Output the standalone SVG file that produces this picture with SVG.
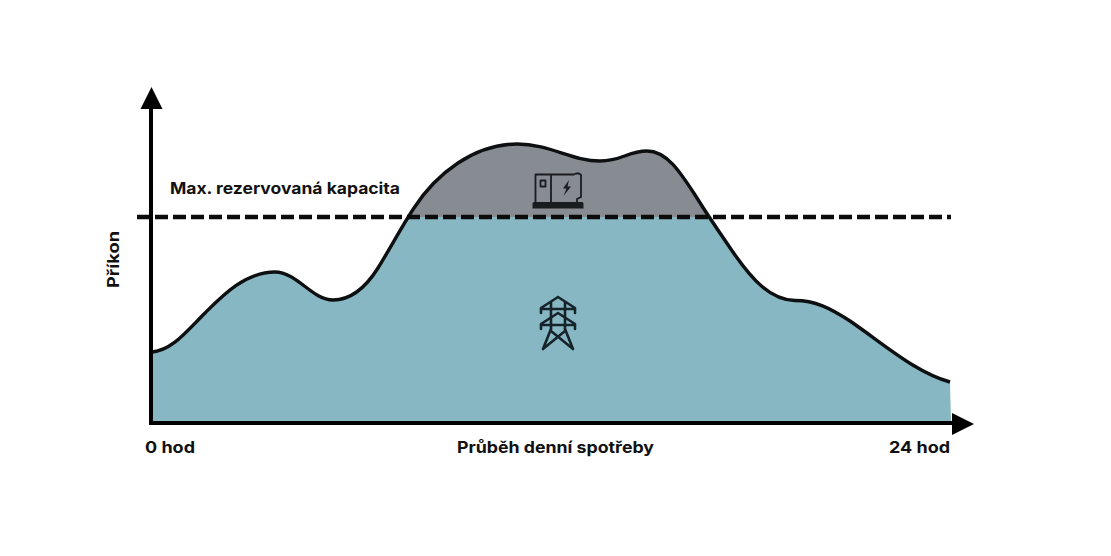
<svg xmlns="http://www.w3.org/2000/svg" width="1111" height="556" viewBox="0 0 1111 556">
<style>
.t{font-family:"Inter","Liberation Sans",sans-serif;font-weight:700;font-size:16px;fill:#111}
.ic{fill:none;stroke:#1a1d20;stroke-width:1.8;stroke-linejoin:round}
.tw{fill:none;stroke:#16242a;stroke-width:2.6;stroke-linejoin:round;stroke-linecap:round}
</style>
<defs>
<path id="area-shape" d="M152,352 C172,350 185,333 205,313 C222,296 245,272 275,272 C297,272 312,300 333,300 C352,300 366,287 378,268 C391,247 402,226 414,208 C436,174 474,144 517,144 C550,144 572,161 600,161 C622,161 628,151 647,151 C668,151 682,175 697,198 C708,216 722,236 735,255 C752,279 770,300 795,300.500 C815,300.500 830,308 850,321 C885,345 915,372 950,382 L951,424 L152,424 Z"/>
<clipPath id="top"><rect x="140" y="100" width="820" height="117"/></clipPath>
<clipPath id="bot"><rect x="140" y="217" width="820" height="210"/></clipPath>
</defs>
<rect width="1111" height="556" fill="#fff"/>
<g id="area">
<use href="#area-shape" fill="#87b7c3" clip-path="url(#bot)"/>
<use href="#area-shape" fill="#878c93" clip-path="url(#top)"/>
</g>
<g id="connectors">
<path d="M152,352 C172,350 185,333 205,313 C222,296 245,272 275,272 C297,272 312,300 333,300 C352,300 366,287 378,268 C391,247 402,226 414,208 C436,174 474,144 517,144 C550,144 572,161 600,161 C622,161 628,151 647,151 C668,151 682,175 697,198 C708,216 722,236 735,255 C752,279 770,300 795,300.500 C815,300.500 830,308 850,321 C885,345 915,372 950,382" fill="none" stroke="#0d0f10" stroke-width="3.400"/>
<path d="M137,217 H951" fill="none" stroke="#0b0b0b" stroke-width="4.400" stroke-dasharray="13 5"/>
<path d="M151,107 V425 M149,423 H954" fill="none" stroke="#000" stroke-width="4"/>
<polygon points="140.500,109 151.500,87 162.500,109" fill="#000"/>
<polygon points="952,413 974,424 952,435" fill="#000"/>
</g>
<g id="generator">
<path class="ic" d="M535.500,203 V174.500 H574 L576,173.500 H579 L581,175 V197 L577,199 V203 M551,174.500 V203"/>
<rect class="ic" x="540.500" y="180.500" width="5" height="6" stroke-width="1.500"/>
<path d="M569,180 L563,188.500 H566.500 L563.500,196 L571,186.500 H567.500 Z" fill="#1a1d20"/>
<path d="M534,202 H582 Q583.500,202 583.500,204 V208.500 H532.500 V204 Q532.500,202 534,202 Z" fill="#1a1d20"/>
</g>
<g id="pylon">
<path class="tw" d="M558,297 L541,308 V313 M558,297 L575,308 V313 M541,309 H575 M551,302 V329 M565,302 V329"/>
<path class="tw" d="M558,313 L541,324 V329 M558,313 L575,324 V329 M541,325 H575"/>
<path class="tw" d="M551,329 L543,349 M565,329 L573,349 M551,331 L573,349 M565,331 L543,349"/>
</g>
<g id="labels">
<text class="t" x="170" y="194" textLength="230" lengthAdjust="spacingAndGlyphs">Max. rezervovaná kapacita</text>
<text class="t" transform="translate(119,288) rotate(-90)" textLength="57" lengthAdjust="spacingAndGlyphs">Příkon</text>
<text class="t" x="145" y="453" textLength="50" lengthAdjust="spacingAndGlyphs">0 hod</text>
<text class="t" x="457" y="453" textLength="197" lengthAdjust="spacingAndGlyphs">Průběh denní spotřeby</text>
<text class="t" x="889" y="453" textLength="61" lengthAdjust="spacingAndGlyphs">24 hod</text>
</g>
</svg>
